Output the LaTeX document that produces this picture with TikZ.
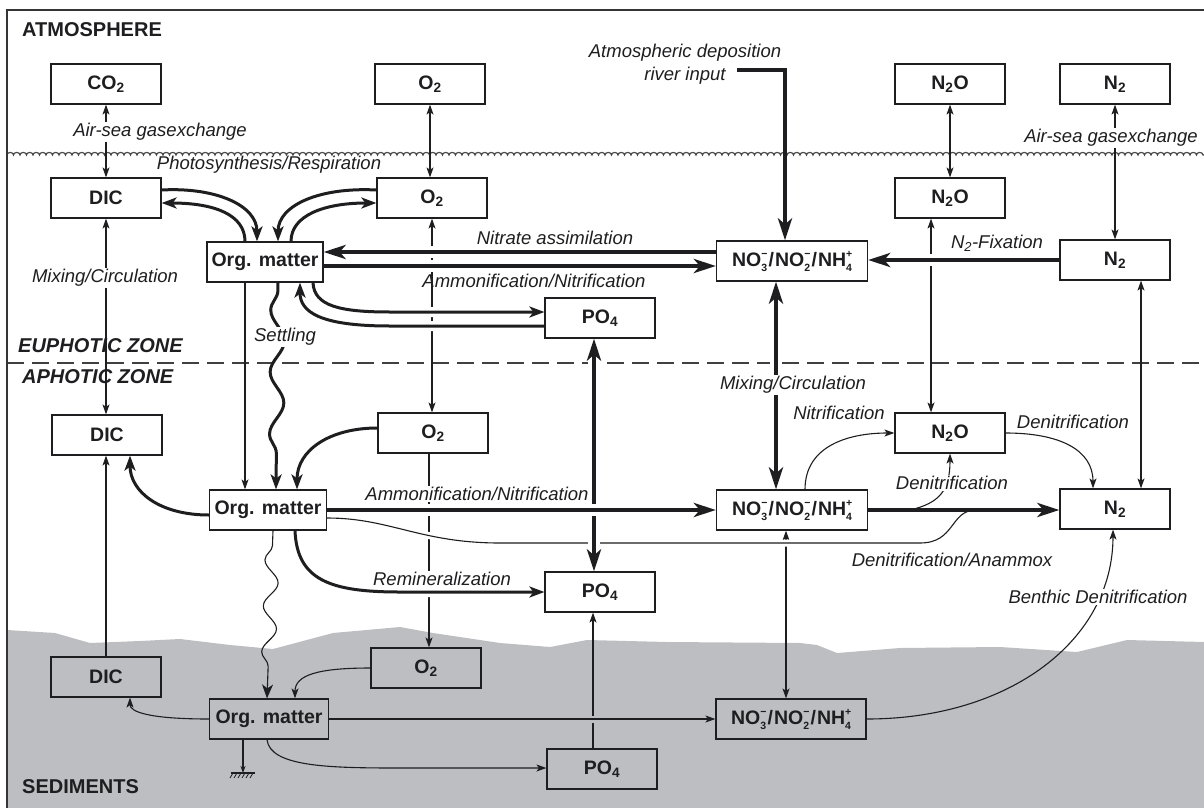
\documentclass[tikz,border=0pt]{standalone}
\usepackage{fontspec}
\setmainfont{Liberation Sans}
\usetikzlibrary{arrows.meta,decorations.pathmorphing}
\definecolor{sedgray}{RGB}{189,190,194}
\definecolor{ink}{RGB}{30,30,32}
\newcommand\ssp[2]{\raisebox{-5pt}{\fontsize{10.5}{12}\selectfont\rlap{\raisebox{14pt}{#2}}#1}}
\newcommand\nothree{NO\ssp{3}{−}\kern1.5pt/\kern1pt NO\ssp{2}{−}\kern1.5pt/\kern1pt NH\ssp{4}{+}}
\pgfdeclarelayer{bgA}
\pgfdeclarelayer{bgB}
\pgfsetlayers{bgA,bgB,main}
\tikzset{
 box/.style={draw=ink, line width=1.2pt, minimum width=110pt, minimum height=40pt, inner sep=0pt, text=ink, font=\fontsize{19.5}{22}\selectfont\bfseries},
 lab/.style={font=\fontsize{18.5}{23}\selectfont\itshape, inner sep=1.5pt, text=ink},
 wlab/.style={lab, fill=white},
 zone/.style={font=\fontsize{20}{22}\selectfont\bfseries, anchor=west, inner sep=0pt, text=ink},
 tipS/.tip={Stealth[length=10pt,width=7pt,inset=2.5pt]},
 tipK/.tip={Stealth[length=22pt,width=14pt,inset=6pt]},
 tipC/.tip={Stealth[length=15pt,width=11pt,inset=4pt]},
 ta/.style={draw=ink, line width=1.1pt, -tipS},
 tb/.style={draw=ink, line width=1.1pt, tipS-tipS},
 ka/.style={draw=ink, line width=4pt, -tipK},
 kb/.style={draw=ink, line width=4pt, tipK-tipK},
 ca/.style={draw=ink, line width=3pt, -tipC},
 hw/.style={preaction={draw=white, -, line width=#1}},
 hg/.style={preaction={draw=sedgray, -, line width=#1}},
}
\begin{document}
\begin{tikzpicture}[x=1pt,y=-1pt]
\useasboundingbox (0,0) rectangle (1204,808);

% ---------- boxes ----------
\node[box] (co2a) at (106,84) {CO\textsubscript{2}};
\node[box] (o2a) at (430,84) {O\textsubscript{2}};
\node[box] (n2oa) at (950,84) {N\textsubscript{2}O};
\node[box] (n2a) at (1115,84) {N\textsubscript{2}};
\node[box] (dice) at (106,198) {DIC};
\node[box] (o2e) at (432,198) {O\textsubscript{2}};
\node[box] (n2oe) at (950,198) {N\textsubscript{2}O};
\node[box, minimum width=116pt] (orge) at (265,262) {Org. matter};
\node[box, minimum width=151pt] (no3e) at (792,261) {\nothree};
\node[box] (n2e) at (1115,260) {N\textsubscript{2}};
\node[box] (po4e) at (600,318) {PO\textsubscript{4}};
\node[box] (dicp) at (107,435) {DIC};
\node[box] (o2p) at (433,433) {O\textsubscript{2}};
\node[box, minimum width=117pt] (orgp) at (268,510) {Org. matter};
\node[box, minimum width=151pt] (no3p) at (792,510) {\nothree};
\node[box] (n2op) at (950,433) {N\textsubscript{2}O};
\node[box] (n2p) at (1115,509) {N\textsubscript{2}};
\node[box] (po4p) at (600,592) {PO\textsubscript{4}};
\node[box] (dics) at (106,677) {DIC};
\node[box] (o2s) at (426,668) {O\textsubscript{2}};
\node[box, minimum width=119pt] (orgs) at (269,719) {Org. matter};
\node[box, minimum width=150pt] (no3s) at (791,719) {\nothree};
\node[box] (po4s) at (602,769) {PO\textsubscript{4}};

\coordinate (adep) at (737,70);
\coordinate (merge) at (975,510);
\coordinate (dn1) at (910,510);
\coordinate (bur) at (243,773);

% ---------- zone labels ----------
\node[zone] (atm) at (22,30) {ATMOSPHERE};
\node[zone, font=\fontsize{20}{22}\selectfont\bfseries\itshape] (eup) at (18,346) {EUPHOTIC ZONE};
\node[zone, font=\fontsize{20}{22}\selectfont\bfseries\itshape] (aph) at (22,377) {APHOTIC ZONE};
\node[zone] (sed) at (22,787) {SEDIMENTS};

% ---------- flow labels ----------
\node[wlab] (l1) at (160,132) {Air-sea gasexchange};
\node[lab] (l2) at (269,165) {Photosynthesis/Respiration};
\node[wlab] (l3) at (105,278) {Mixing/Circulation};
\node[wlab] (l4) at (285,337) {Settling};
\node[lab] (l5) at (555,238) {Nitrate assimilation};
\node[lab] (l6) at (534,281) {Ammonification/Nitrification};
\node[lab, align=center] (l7) at (685,64) {Atmospheric deposition\\river input};
\node[wlab] (l8) at (1111,138) {Air-sea gasexchange};
\node[lab] (l9) at (997,243) {N\textsubscript{2}-Fixation};
\node[wlab] (l10) at (793,385) {Mixing/Circulation};
\node[lab] (l11) at (839,413) {Nitrification};
\node[lab] (l12) at (1073,422) {Denitrification};
\node[wlab] (l13) at (952,483) {Denitrification};
\node[wlab] (l14) at (477,494) {Ammonification/Nitrification};
\node[lab] (l15) at (952,560) {Denitrification/Anammox};
\node[wlab] (l16) at (442,579) {Remineralization};
\node[wlab] (l17) at (1098,597) {Benthic Denitrification};

% ---------- background ----------
\begin{pgfonlayer}{bgA}
\fill[sedgray] (7,630) -- (55,633) -- (90,643) -- (140,641) -- (180,639) -- (230,645) -- (273,649) -- (333,633) -- (400,627) -- (433,633) -- (500,643) -- (550,647) -- (587,640) -- (667,642) -- (800,643) -- (817,645) -- (837,653) -- (900,648) -- (1000,647) -- (1077,652) -- (1127,640) -- (1204,642) -- (1204,808) -- (7,808) -- cycle;
\draw[ink!80, line width=1.2pt, decorate, decoration={bumps, amplitude=2.6pt, segment length=13pt}] (7,155) -- (1204,155);
\draw[ink!85, line width=1.1pt, dash pattern=on 17pt off 8pt] (7,363) -- (1204,363);
\draw[ink!90, line width=1.5pt] (7,808) -- (7,10) -- (1204,10);
\end{pgfonlayer}

% ---------- connectors ----------
\begin{pgfonlayer}{bgB}
% thin verticals
\draw[tb] (co2a.south) -- (dice.north);
\draw[tb] (o2a.south) -- (o2a.south |- o2e.north);
\draw[tb] (n2oa.south) -- (n2oe.north);
\draw[tb] (n2a.south) -- (n2e.north);
\draw[tb] (dice.south) -- (dice.south |- dicp.north);
\draw[tb] (o2e.south) -- (o2e.south |- o2p.north);
\draw[tb] ([xshift=-19pt]n2oe.south) -- ([xshift=-19pt]n2op.north);
\draw[tb] ([xshift=26pt]n2e.south) -- ([xshift=26pt]n2p.north);
\draw[ta] ([xshift=-20pt]orge.south) -- ([xshift=-23pt]orgp.north);
\draw[ta] ([xshift=-4pt]o2p.south) -- ([xshift=3pt]o2s.north);
\draw[ta] (dics.north) -- (dics.north |- dicp.south);
\draw[ta] ([xshift=-9pt]po4s.north) -- ([xshift=-7pt]po4p.south);
\draw[tb] ([xshift=-6pt]no3p.south) -- ([xshift=-5pt]no3s.north);

% thin curves (aphotic)
\draw[ta] ([xshift=13pt]no3p.north) .. controls (805,445) and (850,433) .. (n2op.west);
\draw[ta] (n2op.east) .. controls (1060,433) and (1093,450) .. ([xshift=-22pt]n2p.north);
\draw[ta] (no3s.east) .. controls (1010,719) and (1113,640) .. ([xshift=-2pt]n2p.south);

% sediments
\draw[ta] (o2s.west) .. controls (318,668) and (295,675) .. ([xshift=26pt]orgs.north);
\draw[ta] (orgs.west) .. controls (150,719) and (130,712) .. ([xshift=24pt]dics.south);
\draw[ta, hg=7pt] (orgs.east) -- (no3s.west);
\draw[ta] ([xshift=-2pt]orgs.south) .. controls (270,767) and (330,768) .. (400,768) -- (po4s.west |- 0,768);
\draw[draw=ink, line width=1.1pt, -{Stealth[length=7pt,width=5pt]}] ([xshift=-26pt]orgs.south) -- (bur);
\draw[ink, line width=1.1pt] (231,773) -- (255,773);
\foreach \k in {0,...,5} \draw[ink, line width=0.8pt] (233+4*\k,773) -- (230+4*\k,778);
\draw[draw=ink, line width=1.1pt, -{Stealth[length=14pt,width=11pt,inset=4pt]}, decorate, decoration={snake, amplitude=-7pt, segment length=46pt, pre length=15pt, post length=16pt}] ([xshift=5pt]orgp.south) -- ([xshift=-2pt]orgs.north);

% aphotic
\draw[draw=ink, line width=1.1pt, hw=7pt] ([yshift=-8pt]orgp.east) .. controls (390,518) and (420,543) .. (500,543) -- (920,543) .. controls (955,543) and (950,511) .. (merge);
\draw[kb, hw=12pt] ([xshift=-6pt]po4e.south) -- ([xshift=-6pt]po4p.north);
\draw[kb, hw=12pt] ([xshift=-16pt]no3e.south) -- ([xshift=-16pt]no3p.north);
\draw[ka, hw=12pt] (orgp.east) -- (no3p.west);
\draw[ka] (no3p.east) -- (n2p.west |- no3p.east);
\draw[ta] (dn1) .. controls (940,503) and (950,490) .. (n2op.south);
\draw[ca] ([yshift=-5pt]orgp.west) .. controls (160,515) and (130,492) .. ([xshift=23pt]dicp.south);
\draw[ca] ([yshift=5pt]o2p.west) .. controls (330,428) and (297,450) .. ([xshift=29pt]orgp.north);
\draw[ca, hw=10pt] ([xshift=27pt]orgp.south) .. controls (297,580) and (330,592) .. (400,592) -- (po4p.west);

% euphotic
\draw[ca] ([yshift=8pt]dice.east) .. controls (215,187) and (257,205) .. ([xshift=-8pt]orge.north);
\draw[ca] ([xshift=-20pt]orge.north) .. controls (245,215) and (215,203) .. ([yshift=-5pt]dice.east);
\draw[ca] ([yshift=8pt]o2e.west) .. controls (320,187) and (278,205) .. ([xshift=13pt]orge.north);
\draw[ca] ([xshift=26pt]orge.north) .. controls (291,215) and (325,203) .. ([yshift=-5pt]o2e.west);
\draw[ka, hw=12pt] ([yshift=9pt]no3e.west) -- ([yshift=9pt]no3e.west -| orge.east);
\draw[ka, hw=12pt] ([yshift=-4pt]orge.east) -- ([yshift=-4pt]orge.east -| no3e.west);
\draw[ca, hw=10pt] ([xshift=48pt]orge.south) .. controls (314,306) and (340,312) .. (390,312) -- ([yshift=6pt]po4e.west);
\draw[ca, hw=10pt] ([yshift=-8pt]po4e.west) -- (390,326) .. controls (320,326) and (300,312) .. ([xshift=35pt]orge.south);
\draw[ka, hw=12pt] (n2e.west) -- (n2e.west -| no3e.east);
\draw[draw=ink, line width=3pt, -tipC, decorate, decoration={snake, amplitude=-7pt, segment length=62pt, pre length=8pt, post length=16pt}] ([xshift=13pt]orge.south) -- ([xshift=8pt]orgp.north);
\draw[ka] (adep) -| ([xshift=-7pt]no3e.north);
\end{pgfonlayer}
\end{tikzpicture}
\end{document}
